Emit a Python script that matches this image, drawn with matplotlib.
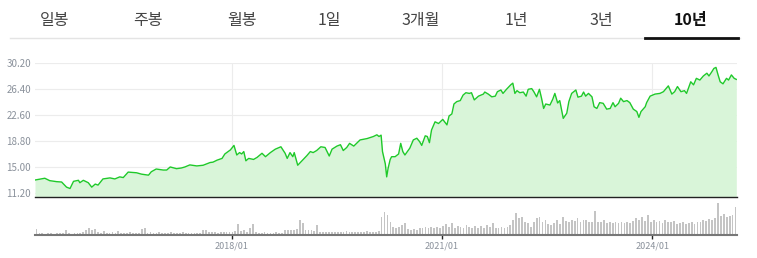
import numpy as np
import matplotlib.pyplot as plt

# tab bar
tab_labels = ["일봉", "주봉", "월봉", "1일", "3개월", "1년", "3년", "10년"]
tab_x = [55, 148, 242, 329, 421, 516, 601, 691]   # pixel centres

# price line (decimal years, price)
price_years = [
    2015.19, 2015.33, 2015.40, 2015.50, 2015.57, 2015.64, 2015.69, 2015.74, 2015.81, 2015.83, 2015.88, 2015.95,
    2016.00, 2016.05, 2016.09, 2016.16, 2016.26, 2016.33, 2016.40, 2016.45, 2016.52, 2016.64, 2016.71, 2016.81, 2016.85, 2016.92,
    2017.02, 2017.07, 2017.12, 2017.21, 2017.28, 2017.33, 2017.40, 2017.50, 2017.59, 2017.69, 2017.73, 2017.79, 2017.86, 2017.90, 2017.98,
    2018.03, 2018.07, 2018.11, 2018.14, 2018.17, 2018.20, 2018.24, 2018.31, 2018.36, 2018.43, 2018.48, 2018.55, 2018.62, 2018.70,
    2018.76, 2018.79, 2018.83, 2018.87, 2018.89, 2018.94,
    2019.00, 2019.07, 2019.12, 2019.16, 2019.21, 2019.27, 2019.33, 2019.39, 2019.43, 2019.50, 2019.55, 2019.59, 2019.64, 2019.68,
    2019.74, 2019.83, 2019.93,
    2020.02, 2020.07, 2020.10, 2020.13, 2020.15, 2020.19, 2020.21, 2020.23, 2020.26, 2020.28, 2020.33, 2020.38, 2020.41, 2020.44,
    2020.47, 2020.54, 2020.59, 2020.64, 2020.68, 2020.71, 2020.76, 2020.79, 2020.82, 2020.85, 2020.90, 2020.95,
    2021.01, 2021.07, 2021.10, 2021.14, 2021.17, 2021.21, 2021.26, 2021.30, 2021.34, 2021.39, 2021.42, 2021.46, 2021.52, 2021.59,
    2021.61, 2021.66, 2021.71, 2021.76, 2021.79, 2021.84, 2021.87, 2021.92, 2021.98,
    2022.01, 2022.04, 2022.07, 2022.11, 2022.16, 2022.20, 2022.23, 2022.28, 2022.31, 2022.35, 2022.39, 2022.42, 2022.45, 2022.48,
    2022.54, 2022.58, 2022.61, 2022.65, 2022.68, 2022.73, 2022.78, 2022.81, 2022.85, 2022.91, 2022.94, 2022.99,
    2023.02, 2023.05, 2023.09, 2023.14, 2023.17, 2023.21, 2023.25, 2023.30, 2023.35, 2023.40, 2023.44, 2023.47, 2023.52, 2023.55,
    2023.59, 2023.64, 2023.68, 2023.73, 2023.78, 2023.81, 2023.84, 2023.90, 2023.92, 2023.97,
    2024.04, 2024.11, 2024.16, 2024.23, 2024.28, 2024.32, 2024.36, 2024.41, 2024.46, 2024.49, 2024.55, 2024.59, 2024.63, 2024.68,
    2024.73, 2024.78, 2024.81, 2024.85, 2024.88, 2024.91, 2024.94, 2024.97,
    2025.01, 2025.06, 2025.09, 2025.13, 2025.17, 2025.20,
]
price_values = [
    13.14, 13.4, 13.05, 12.9, 12.85, 12.1, 11.9, 12.95, 13.1, 12.75, 13.1, 12.75,
    12.1, 12.55, 12.4, 13.3, 13.45, 13.3, 13.6, 13.5, 14.3, 14.2, 14.0, 13.85, 14.35, 14.75,
    14.6, 14.6, 15.05, 14.8, 14.9, 15.05, 15.35, 15.2, 15.3, 15.7, 15.75, 16.05, 16.3, 16.95, 17.55,
    18.2, 16.8, 17.15, 16.95, 17.3, 15.95, 16.3, 16.15, 16.45, 17.05, 16.55, 17.15, 17.65, 18.0,
    17.05, 16.3, 17.15, 16.55, 17.15, 15.3,
    15.95, 16.7, 17.3, 17.15, 17.45, 18.0, 17.9, 16.65, 17.65, 18.1, 18.3, 17.45, 17.9, 18.5,
    18.1, 19.0, 19.2,
    19.5, 19.75, 19.5, 19.7, 17.3, 15.5, 13.6, 14.85, 16.15, 16.55, 16.55, 16.95, 18.5, 17.3,
    16.8, 17.8, 19.0, 19.25, 18.75, 18.2, 19.6, 19.5, 18.6, 20.45, 21.65, 21.4,
    22.0, 21.2, 22.5, 22.8, 24.25, 24.6, 24.75, 25.55, 25.9, 25.8, 25.9, 24.85, 25.4, 25.7,
    26.0, 25.7, 25.3, 25.4, 26.05, 26.3, 25.8, 26.4, 27.05,
    27.3, 25.8, 26.2, 25.9, 26.0, 25.4, 26.4, 26.5, 26.05, 25.3, 26.4, 25.1, 23.6, 24.25,
    24.1, 24.95, 25.8, 24.4, 24.75, 22.15, 22.9, 24.6, 25.8, 26.3, 25.25, 25.4,
    26.0, 25.4, 25.8, 25.3, 23.85, 23.6, 24.45, 24.35, 23.5, 23.6, 24.45, 23.85, 24.35, 25.1,
    24.6, 24.75, 24.45, 23.5, 23.15, 22.3, 23.15, 23.85, 24.45, 25.4,
    25.7, 25.8, 26.05, 26.9, 25.7, 26.05, 26.8, 26.05, 26.2, 25.8, 27.5, 27.05, 28.0, 27.75,
    28.35, 28.75, 28.35, 28.95, 29.45, 29.6, 28.5, 27.5,
    27.2, 28.0, 27.75, 28.5, 28.0, 27.85,
]

# volume bars, evenly spaced over the period
vol_values = [
    18, 5, 5, 4, 5, 5, 4, 5, 5, 5, 15, 5, 4, 5, 5, 6, 8, 15, 22, 14,
    18, 8, 7, 12, 7, 7, 8, 7, 12, 7, 7, 7, 8, 7, 7, 7, 18, 20, 7, 8,
    7, 7, 8, 7, 7, 7, 8, 7, 7, 7, 8, 7, 7, 7, 7, 7, 7, 15, 15, 8,
    8, 9, 7, 10, 8, 9, 10, 9, 12, 32, 12, 14, 10, 20, 32, 10, 7, 7, 8, 7,
    7, 7, 8, 7, 7, 15, 14, 16, 15, 18, 45, 35, 16, 15, 14, 12, 30, 10, 9, 8,
    8, 9, 8, 10, 8, 9, 12, 8, 9, 8, 10, 9, 10, 12, 10, 9, 10, 12, 55, 68,
    60, 40, 25, 20, 25, 30, 35, 18, 15, 17, 16, 22, 20, 24, 21, 23, 20, 25, 22, 28,
    32, 25, 35, 22, 28, 25, 20, 30, 24, 22, 28, 20, 26, 22, 30, 24, 35, 22, 20, 24,
    22, 25, 30, 45, 65, 50, 55, 40, 35, 25, 38, 50, 55, 40, 45, 32, 30, 35, 45, 33,
    55, 42, 40, 45, 42, 50, 40, 44, 45, 40, 38, 72, 40, 38, 45, 36, 40, 35, 38, 36,
    40, 35, 38, 36, 42, 50, 45, 55, 42, 60, 40, 45, 38, 42, 36, 45, 40, 38, 42, 32,
    35, 38, 32, 36, 38, 34, 38, 40, 45, 42, 48, 44, 50, 95, 58, 62, 55, 58, 60, 85,
]

y_ticks = [11.20, 15.00, 18.80, 22.60, 26.40, 30.20]
x_ticks = [2018.0, 2021.0, 2024.0]
x_tick_labels = ["2018/01", "2021/01", "2024/01"]

x_start, x_end = 2015.19, 2025.21
W, H = 757, 258

plt.rcParams['font.family'] = ['Noto Sans CJK KR', 'DejaVu Sans']
fig = plt.figure(figsize=(W / 100, H / 100), dpi=100)

# header tabs
for lbl, px in zip(tab_labels, tab_x):
    bold = lbl == "10년"
    fig.text(px / W, 1 - 20 / H, lbl, ha='center', va='center', fontsize=11.5,
             color='#111111' if bold else '#444444', fontweight='bold' if bold else 'normal')
fig.add_artist(plt.Line2D([10 / W, 740 / W], [1 - 38 / H] * 2, color='#e4e4e4', lw=1))
fig.add_artist(plt.Line2D([645 / W, 738 / W], [1 - 37.5 / H] * 2, color='#111111', lw=2))

# price chart
ax = fig.add_axes([35 / W, 1 - 197 / H, 702 / W, (197 - 63.3) / H])
ax.set_xlim(x_start, x_end)
ax.set_ylim(10.66, 30.2)
for v in y_ticks:
    ax.axhline(v, color='#ececec', lw=0.8, zorder=0)
ax.vlines(x_ticks, 11.2, 30.2, color='#ececec', lw=0.8, zorder=0)
ax.fill_between(price_years, price_values, 10.66, color='#d9f5d9', lw=0, zorder=1)
ax.plot(price_years, price_values, color='#1fc92a', lw=1.0, zorder=2)
ax.set_yticks(y_ticks)
ax.set_yticklabels([f"{v:.2f}" for v in y_ticks], fontsize=7, color='#8a919b')
ax.tick_params(axis='y', length=0, pad=3)
ax.set_xticks([])
for s in ['top', 'right', 'left']:
    ax.spines[s].set_visible(False)
ax.spines['bottom'].set_color('#222222')
ax.spines['bottom'].set_linewidth(1.0)

# volume chart
vax = fig.add_axes([35 / W, 1 - 235 / H, 702 / W, 33.5 / H])
step = (x_end - x_start) / len(vol_values)
vol_x = x_start + step * (np.arange(len(vol_values)) + 0.5)
vax.bar(vol_x, vol_values, width=step * 0.6, color='#c4c4c4', lw=0)
vax.set_xlim(x_start, x_end)
vax.set_ylim(0, 100)
vax.set_yticks([])
vax.set_xticks(x_ticks)
vax.set_xticklabels(x_tick_labels, fontsize=6.5, color='#8a919b')
vax.tick_params(axis='x', length=3, width=1, color='#222222', pad=1.5)
for s in ['top', 'right', 'left']:
    vax.spines[s].set_visible(False)
vax.spines['bottom'].set_color('#777777')
vax.spines['bottom'].set_linewidth(1.5)

fig.savefig('out.png', dpi=100)
